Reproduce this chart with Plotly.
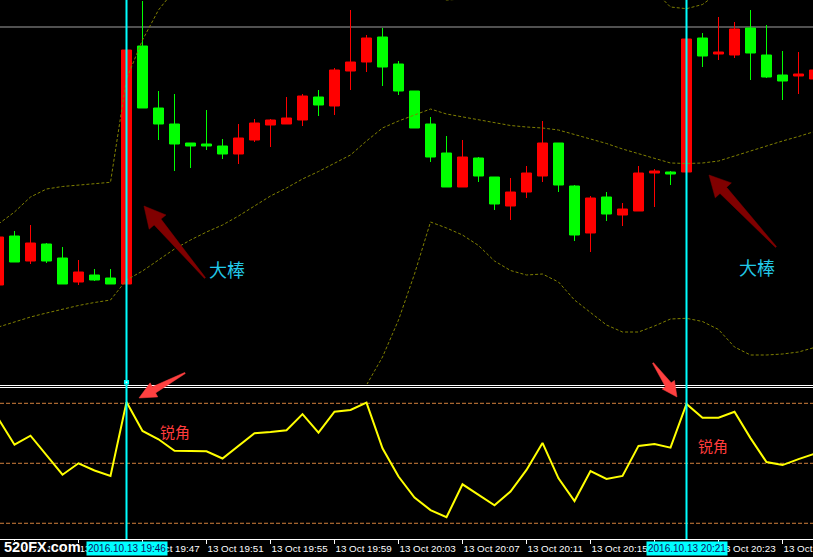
import plotly.graph_objects as go
import pandas as pd

# ---------------- data ----------------
times = pd.date_range("2016-10-13 19:38", periods=52, freq="min")
bar_idx = list(range(52))

open_ = [115, 164, 139, 156, 142, 118, 125, 122, 116, 354, 292, 276, 257, 256, 254, 246, 260, 275, 276, 280,
         303, 294, 329, 338, 363, 336, 309, 276, 247, 213, 242, 223, 194, 208, 224, 257, 214, 167, 203, 185,
         189, 227, 228, 228, 362, 346, 345, 372, 345, 325, 324, 321]
high = [163, 169, 175, 157, 153, 140, 131, 131, 350, 399, 309, 306, 257, 290, 261, 276, 281, 281, 303, 306,
        310, 332, 390, 365, 372, 339, 309, 283, 264, 260, 243, 223, 222, 234, 279, 257, 215, 204, 208, 197,
        234, 231, 229, 361, 367, 383, 378, 390, 375, 349, 348, 330]
low = [115, 138, 136, 137, 116, 115, 119, 116, 116, 292, 260, 229, 232, 250, 241, 236, 258, 253, 276, 274,
       284, 285, 310, 328, 314, 305, 272, 238, 213, 213, 218, 190, 180, 202, 218, 208, 159, 148, 179, 174,
       189, 193, 215, 228, 333, 340, 342, 320, 322, 300, 306, 321]
close = [163, 138, 157, 139, 116, 128, 120, 116, 350, 292, 276, 256, 254, 254, 246, 262, 277, 280, 282, 304,
         295, 330, 338, 362, 333, 309, 272, 243, 213, 243, 224, 196, 208, 227, 257, 215, 165, 202, 186, 191,
         227, 229, 226, 361, 344, 348, 371, 347, 323, 319, 326, 330]

upper_band = [176, 188, 203, 211, 213.5, 215, 216.5, 217.7, 321, 360, 390, 410, 425, 436, 445, 458, 473, 486,
              494, 502, 505, 509, 505, 503, 501, 478, 444, 404, 400, 401, 405.5, 415, 419.5, 421, 418, 422,
              431, 434.5, 438, 434, 425, 409, 393, 391.3, 395.5, 407.5, 435, 453, 464, 472, 479, 484.5]
middle_band = [73, 78, 83, 87, 91, 94.5, 97.5, 100, 120, 129, 140, 151, 160, 168, 175, 184, 194, 204, 212, 221,
               228.5, 237, 245, 259, 272, 279, 285, 291, 286, 283, 280, 277, 274.5, 273, 272, 270, 265.5, 261,
               256.5, 251, 246.5, 241.5, 237, 236.5, 237, 239, 244, 249, 254.5, 259, 263.5, 268.5]
lower_band = [-30, -32, -37, -37, -31.5, -26, -21.5, -17.7, -83, -102, -110, -108, -105, -100, -95, -90, -85,
              -78, -70, -60, -48, -35, -15, 15, 43, 80, 126, 178, 172, 165, 154.5, 139, 129.5, 125, 126, 118,
              100, 87.5, 75, 68, 68, 74, 81, 81.7, 78.5, 70.5, 53, 45, 45, 46, 48, 52.5]

cci = [74, 31, 46, 14, -19, 0, -12, -21, 102, 54, 40, 21, 20, 20, 8, 29, 50, 52, 55, 82, 51, 86, 89, 101, 25,
       -22, -57, -78, -90, -35, -53, -70, -47, -11, 34, -25, -63, -13, -26, -21, 29, 32, 26, 99, 76, 76, 86,
       42, 2, -3, 7, 16]
cci_levels = [100, 0, -100]

signal_bars = [8, 43]          # the two "大棒" bars
hline_price = 373              # horizontal line object in the main window
tick_bars = list(range(1, 52, 4))
tick_text = [times[i].strftime("%d %b %H:%M") for i in tick_bars]
signal_text = [times[i].strftime("%Y.%m.%d %H:%M") for i in signal_bars]

# ---------------- geometry ----------------
W, H = 813, 557
PLOT_BOTTOM = 539          # pixel row of the time axis
MAIN_BOTTOM = 384
SUB_TOP = 388


def px(x):
    return x / W


def py(y):
    return (PLOT_BOTTOM - y) / PLOT_BOTTOM


fig = go.Figure()

fig.add_trace(go.Candlestick(
    x=bar_idx, open=open_, high=high, low=low, close=close,
    increasing=dict(line=dict(color="#ff0000", width=1), fillcolor="#ff0000"),
    decreasing=dict(line=dict(color="#00ff00", width=1), fillcolor="#00ff00"),
    whiskerwidth=0, showlegend=False, hoverinfo="skip", xaxis="x", yaxis="y"))

for band in (upper_band, middle_band, lower_band):
    fig.add_trace(go.Scatter(x=bar_idx, y=band, mode="lines", showlegend=False, hoverinfo="skip",
                             line=dict(color="#808000", width=1, dash="3px,2px"),
                             xaxis="x", yaxis="y"))

fig.add_trace(go.Scatter(x=bar_idx, y=cci, mode="lines", showlegend=False, hoverinfo="skip",
                         line=dict(color="#ffff00", width=2), xaxis="x2", yaxis="y2"))

shapes = []
for lv in cci_levels:
    shapes.append(dict(type="line", xref="paper", yref="y2", x0=0, x1=1, y0=lv, y1=lv, layer="below",
                       line=dict(color="#d2803c", width=1, dash="4px,2px")))
shapes.append(dict(type="line", xref="paper", yref="y", x0=0, x1=1, y0=hline_price, y1=hline_price,
                   layer="below", line=dict(color="#a0a0a0", width=1)))
for yy in (385.5, 387.5):
    shapes.append(dict(type="line", xref="paper", yref="paper", x0=0, x1=1, y0=py(yy), y1=py(yy),
                       line=dict(color="#ffffff", width=1)))
for b in signal_bars:
    shapes.append(dict(type="line", xref="x", yref="paper", x0=b, x1=b, y0=0, y1=1,
                       line=dict(color="#00ffff", width=2)))
shapes.append(dict(type="rect", xref="x", yref="paper", x0=signal_bars[0] - 0.16, x1=signal_bars[0] + 0.16,
                   y0=py(384.5), y1=py(380), fillcolor="#00ffff", line=dict(color="#00ffff", width=0)))
shapes.append(dict(type="rect", xref="x", yref="paper", x0=signal_bars[0] - 0.05, x1=signal_bars[0] + 0.05,
                   y0=py(383), y1=py(381.5), fillcolor="#ffffff", line=dict(width=0)))


def arrow_path(tip, tail, head_len, head_half, shaft_half, tail_half):
    tx, ty = tip
    ex, ey = tail
    dx, dy = ex - tx, ey - ty
    L = (dx * dx + dy * dy) ** 0.5
    ux, uy = dx / L, dy / L
    nx, ny = uy, -ux
    cx, cy = tx + ux * head_len, ty + uy * head_len
    pts = [(tx, ty),
           (cx + nx * head_half, cy + ny * head_half),
           (cx + nx * shaft_half, cy + ny * shaft_half),
           (ex + nx * tail_half, ey + ny * tail_half),
           (ex - nx * tail_half, ey - ny * tail_half),
           (cx - nx * shaft_half, cy - ny * shaft_half),
           (cx - nx * head_half, cy - ny * head_half)]
    return "M " + " L ".join(f"{px(x):.5f},{py(y):.5f}" for x, y in pts) + " Z"


arrows = [((144, 206), (205, 278), 21, 11, 4.5, 0.6, "#800000"),
          ((709, 175), (776, 247), 21, 11, 4.5, 0.6, "#800000"),
          ((139, 398), (185, 373), 17, 8, 3.5, 0.6, "#ff4040"),
          ((677, 397), (653, 363), 15, 7.5, 3.5, 0.6, "#ff4040")]
for tip, tail, hl, hh, sh, th, col in arrows:
    shapes.append(dict(type="path", xref="paper", yref="paper",
                       path=arrow_path(tip, tail, hl, hh, sh, th),
                       fillcolor=col, line=dict(color=col, width=0.5)))

annotations = []
for (xc, yc) in [(226.5, 268.5), (757, 266.5)]:
    annotations.append(dict(text="大棒", xref="paper", yref="paper", x=px(xc), y=py(yc),
                            xanchor="center", yanchor="middle", showarrow=False,
                            font=dict(family="Noto Sans CJK SC", size=18, color="#22c8e6")))
for (xc, yc) in [(175, 431.5), (713, 445.5)]:
    annotations.append(dict(text="锐角", xref="paper", yref="paper", x=px(xc), y=py(yc),
                            xanchor="center", yanchor="middle", showarrow=False,
                            font=dict(family="Noto Sans CJK SC", size=15, color="#ff3c3c")))
annotations.append(dict(text="520FX.com", xref="paper", yref="paper", x=px(42.5), y=py(546.5),
                        xanchor="center", yanchor="middle", showarrow=False,
                        font=dict(family="Liberation Sans", size=14.5, color="#ffffff", weight="bold",
                                  shadow="1px 1px 0 #000, -1px -1px 0 #000, 1px -1px 0 #000, -1px 1px 0 #000")))
for b, t in zip(signal_bars, signal_text):
    annotations.append(dict(text=t, xref="x", yref="paper", x=b, y=py(548), xanchor="center",
                            yanchor="middle", showarrow=False, bgcolor="#00ffff", borderpad=1,
                            font=dict(family="Liberation Sans", size=10, color="#101060")))

fig.update_layout(
    width=W, height=H, margin=dict(l=0, r=0, t=0, b=H - PLOT_BOTTOM, pad=0, autoexpand=False),
    paper_bgcolor="#000000", plot_bgcolor="#000000", hovermode=False, showlegend=False,
    boxgap=0.375, boxgroupgap=0,
    xaxis=dict(domain=[0, 1], range=[1.5 / 16, 814.5 / 16], anchor="y", showticklabels=False,
               showgrid=False, zeroline=False, showline=False, ticks="", automargin=False,
               rangeslider=dict(visible=False)),
    yaxis=dict(domain=[py(MAIN_BOTTOM), 1], range=[400 - MAIN_BOTTOM, 400], visible=False),
    xaxis2=dict(domain=[0, 1], matches="x", anchor="y2", showgrid=False, zeroline=False,
                showline=True, linecolor="#ffffff", linewidth=1, ticks="outside", ticklen=4,
                tickcolor="#ffffff", tickwidth=1, tickvals=tick_bars, ticktext=tick_text,
                ticklabelposition="outside right", tickangle=0, ticklabelstandoff=0,
                ticklabeloverflow="allow", automargin=False,
                tickfont=dict(family="Liberation Sans", size=9.8, color="#ffffff")),
    yaxis2=dict(domain=[0, py(SUB_TOP)], range=[-126.2, 125.5], visible=False),
    shapes=shapes, annotations=annotations,
)

fig.write_html("out.html", config={"displayModeBar": False},
               post_script="document.body.style.margin='0px';document.body.style.background='#000';")
